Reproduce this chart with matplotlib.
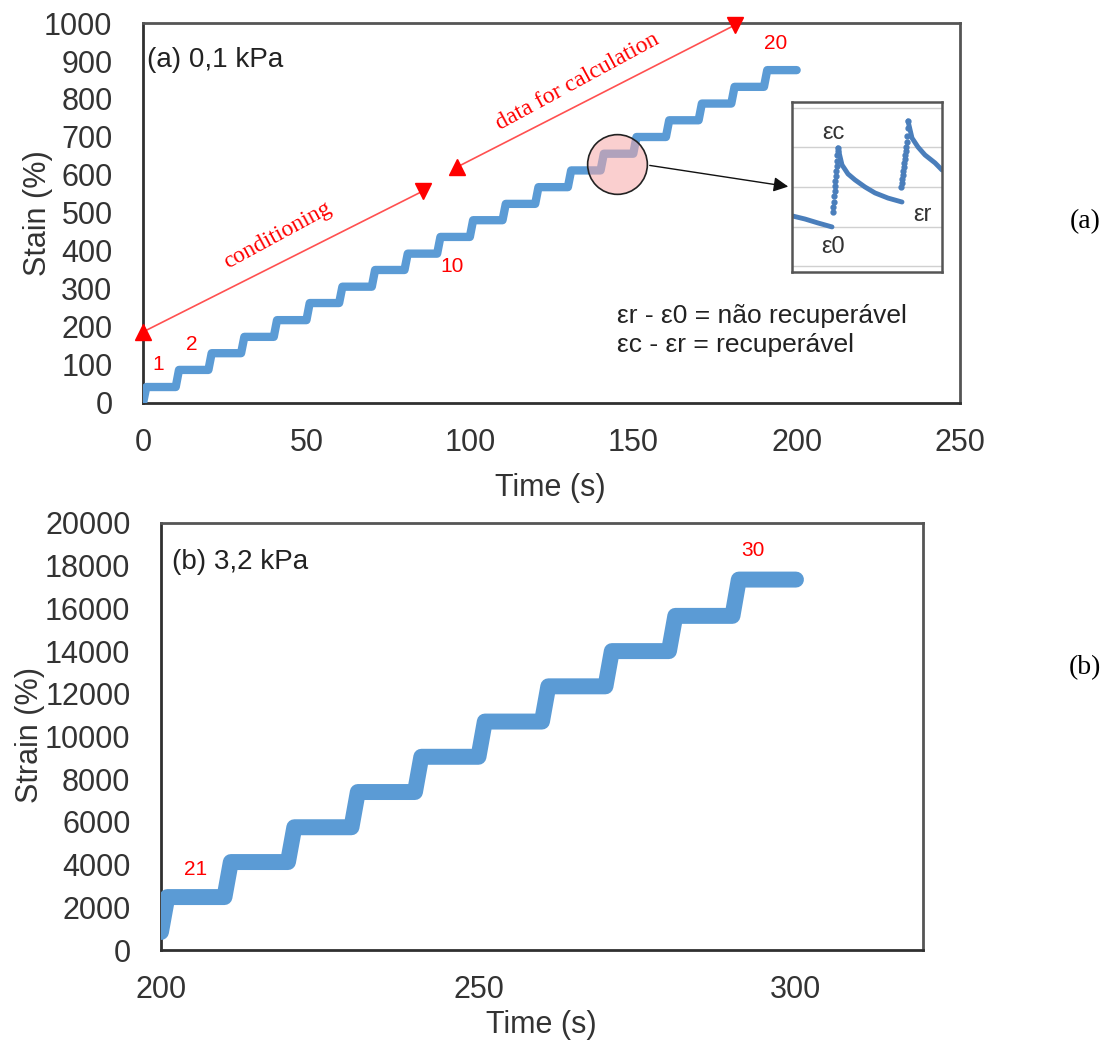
import numpy as np
import matplotlib.pyplot as plt

plt.rcParams['font.family'] = ['Liberation Sans', 'DejaVu Sans']

# strain level held after each creep-recovery cycle (%)
cycles_a = list(range(1, 21))
levels_a = [42, 87, 131, 174, 218, 263, 306, 350, 393, 437,
            481, 524, 568, 612, 656, 700, 744, 788, 832, 876]
cycles_b = list(range(21, 31))
start_b = 843
levels_b = [2480, 4120, 5750, 7400, 9050, 10700, 12350, 14000, 15650, 17350]
cycle_len = 10.0
load_time = 1.0

# zoomed detail of two cycles (arbitrary units)
tail0_t = [0, 13, 26, 40]
tail0_y = [1.27, 1.19, 1.09, 0.99]
rise1_t = [41, 41.4, 41.8, 42.2, 42.6, 43, 43.4, 43.8, 44.2, 44.6, 45, 45.4, 45.8, 46]
rise1_y = [1.37, 1.5, 1.63, 1.76, 1.89, 2.02, 2.15, 2.28, 2.41, 2.54, 2.67, 2.8, 2.9, 2.99]
decay1_t = [46, 50, 56, 63, 73, 83, 96, 110]
decay1_y = [2.99, 2.56, 2.33, 2.18, 2.0, 1.85, 1.72, 1.62]
rise2_t = [109, 109.5, 110, 110.5, 111, 111.5, 112, 112.5, 113, 113.5, 114, 114.5, 115, 115.5, 116]
rise2_y = [2.0, 2.1, 2.2, 2.3, 2.4, 2.5, 2.6, 2.7, 2.8, 2.9, 3.0, 3.15, 3.3, 3.5, 3.67]
decay2_t = [116, 120, 126, 133, 143, 150]
decay2_y = [3.67, 3.24, 3.01, 2.81, 2.61, 2.43]

blue = '#5b9bd5'
tick_col = '#333333'


def staircase(t0, y0, levels):
    t = [t0]
    y = [y0]
    for i, lv in enumerate(levels):
        t += [t0 + i * cycle_len + load_time, t0 + (i + 1) * cycle_len]
        y += [lv, lv]
    return np.array(t), np.array(y)


def style_axes(ax):
    for s in ['top', 'right']:
        ax.spines[s].set_color('#555555')
        ax.spines[s].set_linewidth(2)
    for s in ['left', 'bottom']:
        ax.spines[s].set_color('#303030')
        ax.spines[s].set_linewidth(2)
    ax.tick_params(length=0, labelsize=22, colors=tick_col)
    ax.tick_params(axis='y', pad=22)
    ax.tick_params(axis='x', pad=18)


fig = plt.figure(figsize=(11.14, 10.41), dpi=100)

# ---- (a) 0,1 kPa
ax1 = fig.add_axes([0.1284, 0.6129, 0.7334, 0.3650])
ta, ya = staircase(0.0, 0.0, levels_a)
ax1.plot(ta, ya, color=blue, lw=6, solid_capstyle='round', solid_joinstyle='round', zorder=3)
ax1.set_xlim(0, 250)
ax1.set_ylim(0, 1000)
ax1.set_xticks(np.arange(0, 251, 50))
ax1.set_yticks(np.arange(0, 1001, 100))
style_axes(ax1)

ax1.text(1.2, 903, '(a) 0,1 kPa', fontsize=20, color='#222222', va='center')
for lab, (x, y) in zip(['1', '2', '10', '20'],
                       [(4.6, 100), (15, 153), (94.5, 360), (193.7, 945)]):
    ax1.text(x, y, lab, color='red', fontsize=15, ha='center', va='center')

# conditioning / calculation ranges
ax1.plot([0, 85.7], [187, 558], color='#ff5050', lw=1.2, zorder=2)
ax1.plot(0, 187, marker='^', color='red', ms=11, clip_on=False, zorder=4)
ax1.plot(85.7, 558, marker='v', color='red', ms=11, zorder=4)
ax1.plot([96.1, 181.2], [621, 995], color='#ff5050', lw=1.2, zorder=2)
ax1.plot(96.1, 621, marker='^', color='red', ms=11, zorder=4)
ax1.plot(181.2, 995, marker='v', color='red', ms=11, clip_on=False, zorder=4)
ax1.text(41.3, 442, 'conditioning', family='Liberation Serif', color='red',
         fontsize=17, rotation=28.5, ha='center', va='center')
ax1.text(133, 845, 'data for calculation', family='Liberation Serif', color='red',
         fontsize=17, rotation=28.5, ha='center', va='center')

ax1.plot(145, 629, marker='o', ms=43, mfc='#f7a8a8', mec='none', alpha=0.55, zorder=5)
ax1.plot(145, 629, marker='o', ms=43, mfc='none', mec='#222222', mew=1.2, zorder=6)

ax1.text(145, 229, 'εr - ε0 = não recuperável', fontsize=19, color='#222222', va='center')
ax1.text(145, 153, 'εc - εr = recuperável', fontsize=19, color='#222222', va='center')

fig.text(38 / 1114, 1 - 213 / 1041, 'Stain (%)', rotation=90, fontsize=22,
         color=tick_col, ha='center', va='center')
fig.text(550 / 1114, 1 - 488 / 1041, 'Time (s)', fontsize=22,
         color=tick_col, ha='center', va='center')

# inset with creep-recovery detail
axi = fig.add_axes([792 / 1114, 1 - 272 / 1041, 150 / 1114, 170 / 1041])
axi.set_xlim(0, 150)
axi.set_ylim(-0.15, 4.15)
axi.set_yticks([0, 1, 2, 3, 4])
axi.set_xticks([])
axi.yaxis.grid(True, color='#d0d0d0', lw=1)
axi.tick_params(length=0, labelleft=False)
for s in axi.spines.values():
    s.set_color('#555555')
    s.set_linewidth(1.8)
dot_blue = '#4a7ebb'
axi.plot(tail0_t, tail0_y, color=dot_blue, lw=3.5, solid_capstyle='round')
axi.plot(decay1_t, decay1_y, color=dot_blue, lw=3.5, solid_capstyle='round')
axi.plot(decay2_t, decay2_y, color=dot_blue, lw=3.5, solid_capstyle='round')
axi.plot(rise1_t, rise1_y, 'o', color=dot_blue, ms=3.5)
axi.plot(rise2_t, rise2_y, 'o', color=dot_blue, ms=3.5)
axi.text(41, 3.37, 'εc', fontsize=17, color='#333333', ha='center', va='center')
axi.text(130, 1.29, 'εr', fontsize=17, color='#333333', ha='center', va='center')
axi.text(41, 0.48, 'ε0', fontsize=17, color='#333333', ha='center', va='center')

fig.add_artist(plt.matplotlib.patches.FancyArrowPatch(
    (647 / 1114, 1 - 165 / 1041), (791 / 1114, 1 - 187 / 1041),
    transform=fig.transFigure, arrowstyle='-|>', mutation_scale=22,
    color='#111111', lw=1))

# ---- (b) 3,2 kPa
ax2 = fig.add_axes([0.1445, 0.0874, 0.6840, 0.4102])
tb, yb = staircase(200.0, start_b, levels_b)
ax2.plot(tb, yb, color=blue, lw=11.5, solid_capstyle='round', solid_joinstyle='round', zorder=3)
ax2.set_xlim(200, 320)
ax2.set_ylim(0, 20000)
ax2.set_xticks([200, 250, 300])
ax2.set_yticks(np.arange(0, 20001, 2000))
style_axes(ax2)

ax2.text(201.7, 18170, '(b) 3,2 kPa', fontsize=20, color='#222222', va='center')
ax2.text(205.5, 3750, '21', color='red', fontsize=15, ha='center', va='center')
ax2.text(293.2, 18690, '30', color='red', fontsize=15, ha='center', va='center')

fig.text(30 / 1114, 1 - 735 / 1041, 'Strain (%)', rotation=90, fontsize=22,
         color=tick_col, ha='center', va='center')
fig.text(541 / 1114, 1 - 1025 / 1041, 'Time (s)', fontsize=22,
         color=tick_col, ha='center', va='center')

fig.text(1085 / 1114, 1 - 222 / 1041, '(a)', family='Liberation Serif', fontsize=20,
         ha='center', va='center')
fig.text(1085 / 1114, 1 - 668 / 1041, '(b)', family='Liberation Serif', fontsize=20,
         ha='center', va='center')

fig.savefig('out.png', dpi=100)
